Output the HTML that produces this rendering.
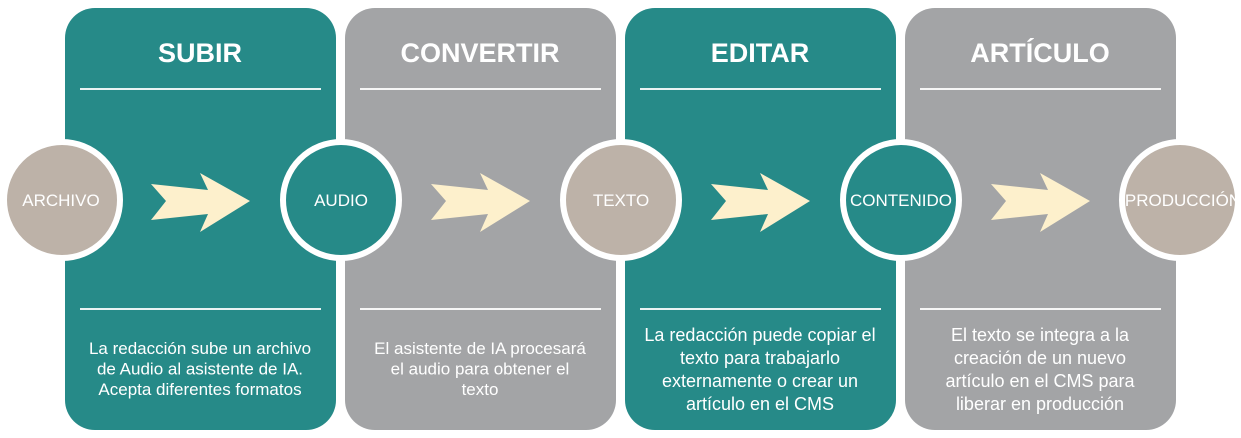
<!DOCTYPE html>
<html><head><meta charset="utf-8"><style>
html,body{margin:0;padding:0;background:#fff}
svg{display:block}
text{font-family:"Liberation Sans",Arial,sans-serif;fill:#fff;text-anchor:middle}
.t{font-size:27px;font-weight:bold}
.b{font-size:17px}
.b2{font-size:18px}
.c{font-size:17px}
</style></head><body>
<svg width="1241" height="438" viewBox="0 0 1241 438" xmlns="http://www.w3.org/2000/svg">
<defs>
<polygon id="ar" points="151,184 208,190 200,173 250,201 200,232 208,214 151,220 166,201" fill="#fdf0cc"/>
</defs>
<rect x="65" y="8" width="271" height="422" rx="30" fill="#268a88"/>
<rect x="345" y="8" width="271" height="422" rx="30" fill="#a3a4a6"/>
<rect x="625" y="8" width="271" height="422" rx="30" fill="#268a88"/>
<rect x="905" y="8" width="271" height="422" rx="30" fill="#a3a4a6"/>
<g stroke="#fff" stroke-width="2" opacity="0.9">
<line x1="80" y1="89" x2="321" y2="89"/><line x1="80" y1="309" x2="321" y2="309"/>
<line x1="360" y1="89" x2="601" y2="89"/><line x1="360" y1="309" x2="601" y2="309"/>
<line x1="640" y1="89" x2="881" y2="89"/><line x1="640" y1="309" x2="881" y2="309"/>
<line x1="920" y1="89" x2="1161" y2="89"/><line x1="920" y1="309" x2="1161" y2="309"/>
</g>
<text class="t" x="200" y="62">SUBIR</text>
<text class="t" x="480" y="62">CONVERTIR</text>
<text class="t" x="760" y="62">EDITAR</text>
<text class="t" x="1040" y="62">ARTÍCULO</text>
<use href="#ar"/>
<use href="#ar" transform="translate(280,0)"/>
<use href="#ar" transform="translate(560,0)"/>
<use href="#ar" transform="translate(840,0)"/>
<g stroke="#fff" stroke-width="6">
<circle cx="62" cy="200" r="58" fill="#bdb2a8"/>
<circle cx="341" cy="200" r="58" fill="#268a88"/>
<circle cx="621" cy="200" r="58" fill="#bdb2a8"/>
<circle cx="901" cy="200" r="58" fill="#268a88"/>
<circle cx="1180" cy="200" r="58" fill="#bdb2a8"/>
</g>
<text class="c" x="61" y="206">ARCHIVO</text>
<text class="c" x="341" y="206">AUDIO</text>
<text class="c" x="621" y="206">TEXTO</text>
<text class="c" x="901" y="206">CONTENIDO</text>
<text class="c" x="1183" y="206">PRODUCCIÓN</text>
<text class="b" x="200" y="354">La redacción sube un archivo</text>
<text class="b" x="200" y="374.5">de Audio al asistente de IA.</text>
<text class="b" x="200" y="395">Acepta diferentes formatos</text>
<text class="b" x="480" y="354">El asistente de IA procesará</text>
<text class="b" x="480" y="374.5">el audio para obtener el</text>
<text class="b" x="480" y="395">texto</text>
<text class="b2" x="760" y="341">La redacción puede copiar el</text>
<text class="b2" x="760" y="364">texto para trabajarlo</text>
<text class="b2" x="760" y="387">externamente o crear un</text>
<text class="b2" x="760" y="410">artículo en el CMS</text>
<text class="b2" x="1040" y="341">El texto se integra a la</text>
<text class="b2" x="1040" y="364">creación de un nuevo</text>
<text class="b2" x="1040" y="387">artículo en el CMS para</text>
<text class="b2" x="1040" y="410">liberar en producción</text>
</svg>
</body></html>
